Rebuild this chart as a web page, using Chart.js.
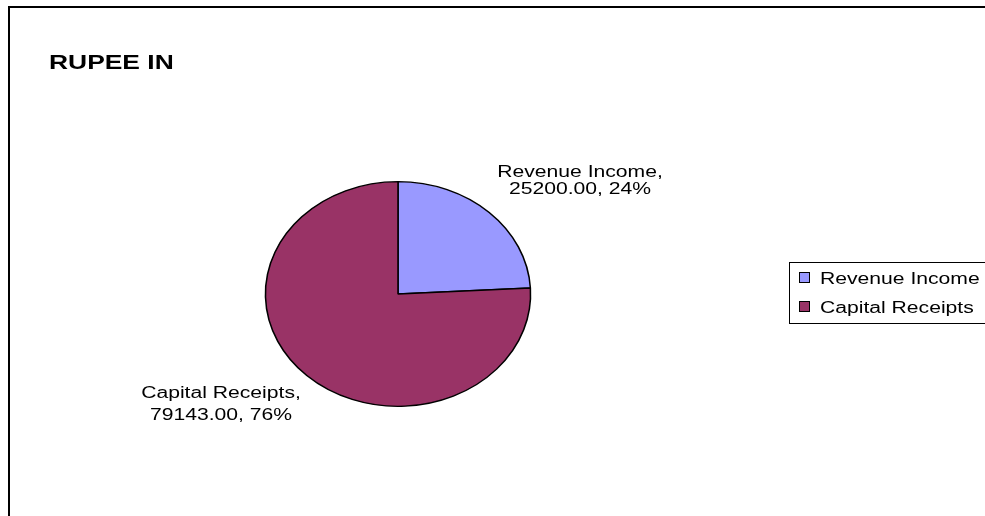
<!DOCTYPE html>
<html>
<head>
<meta charset="utf-8">
<title>RUPEE IN</title>
<script src="https://cdn.jsdelivr.net/npm/chart.js@4.4.0/dist/chart.umd.min.js"></script>
<style>
  html, body { margin: 0; padding: 0; background: #fff; }
  #wrap { width: 985px; height: 516px; position: relative; }
</style>
</head>
<body>
<div id="wrap"><canvas id="pie"></canvas></div>
<script>
// Data

const chartTitle = 'RUPEE IN';
const categories = ['Revenue Income', 'Capital Receipts'];
const amounts    = [25200.00, 79143.00];
const colors     = ['#9999FF', '#993366'];

// Layout (original export was stretched sideways)

const FONT     = '"Liberation Sans", Arial, sans-serif';
const TEXT_SX  = 1.32;   // horizontal stretch of all text
const PIE_SX   = 1.18;   // horizontal stretch of the pie -> ellipse
const labelPos = [
  { x: 580, y: [177, 194] },
  { x: 221, y: [398, 420] }
];
const legendBox = { x: 789, y: 262, w: 210, h: 61, rows: [278, 307] };

const total = amounts.reduce((a, b) => a + b, 0);

function stretchedText(ctx, txt, x, y, align) {
  ctx.save();
  ctx.translate(x, y);
  ctx.scale(TEXT_SX, 1);
  ctx.textAlign = align;
  ctx.textBaseline = 'alphabetic';
  ctx.fillText(txt, 0, 0);
  ctx.restore();
}

// Plugins

const ellipsePlugin = {
  id: 'ellipse',
  beforeDatasetsDraw(chart) {
    const arc = chart.getDatasetMeta(0).data[0];
    const ctx = chart.ctx;
    ctx.save();
    ctx.translate(arc.x, arc.y);
    ctx.scale(PIE_SX, 1);
    ctx.translate(-arc.x, -arc.y);
  },
  afterDatasetsDraw(chart) {
    chart.ctx.restore();
  }
};

const decorPlugin = {
  id: 'decor',
  afterDraw(chart) {
    const ctx = chart.ctx;
    ctx.save();

    // frame (top + left edge only visible)
    ctx.strokeStyle = '#000';
    ctx.lineWidth = 2;
    ctx.beginPath();
    ctx.moveTo(9, 520);
    ctx.lineTo(9, 7);
    ctx.lineTo(990, 7);
    ctx.stroke();

    // title
    ctx.fillStyle = '#000';
    ctx.font = 'bold 20px ' + FONT;
    stretchedText(ctx, chartTitle, 49, 69, 'left');

    // data labels
    ctx.font = '16px ' + FONT;
    categories.forEach((c, i) => {
      const pct = Math.round(amounts[i] / total * 100);
      const p = labelPos[i];
      stretchedText(ctx, c + ',', p.x, p.y[0], 'center');
      stretchedText(ctx, amounts[i].toFixed(2) + ', ' + pct + '%', p.x, p.y[1], 'center');
    });

    // legend
    const lb = legendBox;
    ctx.lineWidth = 1;
    ctx.strokeStyle = '#000';
    ctx.strokeRect(lb.x + 0.5, lb.y + 0.5, lb.w, lb.h);
    categories.forEach((c, i) => {
      const cy = lb.rows[i];
      ctx.fillStyle = colors[i];
      ctx.fillRect(799.5, cy - 5.5, 10, 10);
      ctx.strokeRect(799.5, cy - 5.5, 10, 10);
      ctx.fillStyle = '#000';
      stretchedText(ctx, c, 820, cy + 6, 'left');
    });

    ctx.restore();
  }
};

// Chart

new Chart(document.getElementById('pie'), {
  type: 'pie',
  data: {
    labels: categories,
    datasets: [{
      data: amounts,
      backgroundColor: colors,
      borderColor: '#000',
      borderWidth: 1.3,
      hoverOffset: 0
    }]
  },
  options: {
    responsive: true,
    maintainAspectRatio: false,
    animation: false,
    layout: { padding: { left: 285, right: 474, top: 181, bottom: 109 } },
    plugins: {
      legend: { display: false },
      tooltip: { enabled: false }
    }
  },
  plugins: [ellipsePlugin, decorPlugin]
});
</script>
</body>
</html>
